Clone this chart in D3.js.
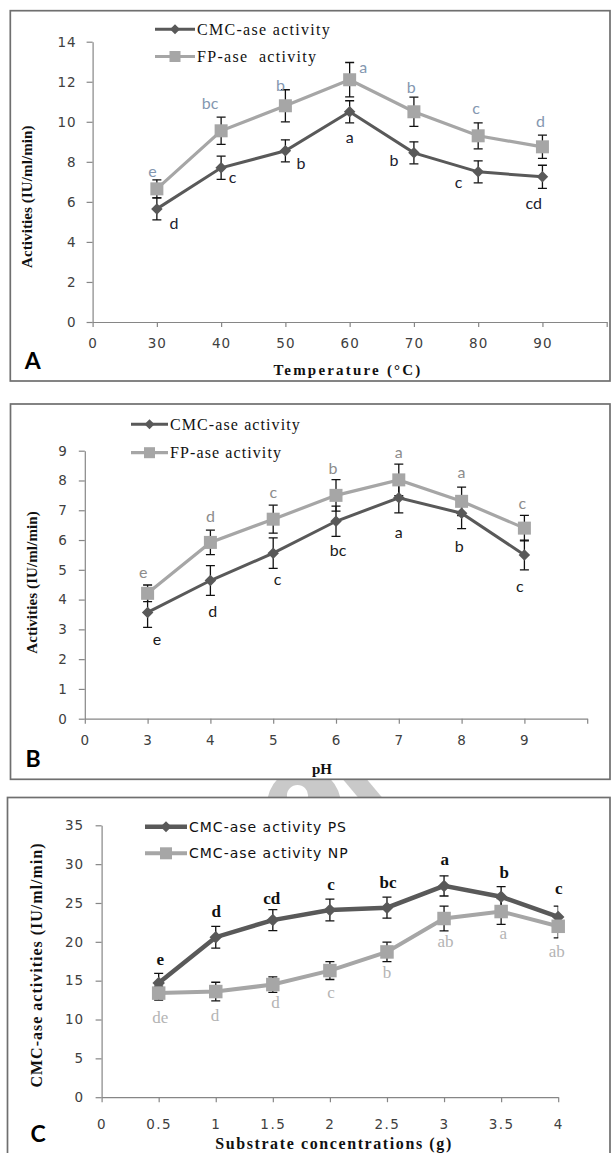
<!DOCTYPE html>
<html>
<head>
<meta charset="utf-8">
<script src="https://d3js.org/d3.v7.min.js"></script>
<style>
  body { margin: 0; background: #fff; }
  svg { display: block; }
  .tick text { font-family: "DejaVu Sans", sans-serif; font-size: 13.5px; fill: #404040; letter-spacing: 1px; }
  .domain, .tick line { stroke: #868686; stroke-width: 1.2; }
</style>
</head>
<body>
<svg width="613" height="1153"></svg>
<script>
// ---- panel A : temperature ----
var tempCats = ["0", "30", "40", "50", "60", "70", "80", "90", ""];
var tempPts = ["30", "40", "50", "60", "70", "80", "90"];
var tempCMC = [5.65, 7.7, 8.55, 10.5, 8.45, 7.5, 7.25];
var tempCMCerr = [0.55, 0.58, 0.55, 0.55, 0.55, 0.55, 0.58];
var tempCMCsig = ["d", "c", "b", "a", "b", "c", "cd"];
var tempFP = [6.65, 9.55, 10.8, 12.1, 10.5, 9.3, 8.75];
var tempFPerr = [0.45, 0.68, 0.8, 0.86, 0.73, 0.65, 0.58];
var tempFPsig = ["e", "bc", "b", "a", "b", "c", "d"];

// ---- panel B : pH ----
var phCats = ["0", "3", "4", "5", "6", "7", "8", "9", ""];
var phPts = ["3", "4", "5", "6", "7", "8", "9"];
var phCMC = [3.57, 4.64, 5.56, 6.63, 7.42, 6.9, 5.5];
var phCMCerr = [0.5, 0.5, 0.51, 0.51, 0.51, 0.52, 0.5];
var phCMCsig = ["e", "d", "c", "bc", "a", "b", "c"];
var phFP = [4.21, 5.92, 6.7, 7.5, 8.02, 7.3, 6.4];
var phFPerr = [0.28, 0.41, 0.47, 0.53, 0.53, 0.48, 0.43];
var phFPsig = ["e", "d", "c", "b", "a", "a", "c"];

// ---- panel C : substrate ----
var concCats = ["0", "0.5", "1", "1.5", "2", "2.5", "3", "3.5", "4"];
var concPts = ["0.5", "1", "1.5", "2", "2.5", "3", "3.5", "4"];
var concPS = [14.7, 20.6, 22.8, 24.1, 24.4, 27.2, 25.8, 23.2];
var concPSerr = [1.25, 1.4, 1.35, 1.4, 1.35, 1.3, 1.3, 1.4];
var concPSsig = ["e", "d", "cd", "c", "bc", "a", "b", "c"];
var concNP = [13.4, 13.6, 14.5, 16.3, 18.7, 23.0, 23.9, 22.0];
var concNPerr = [0.9, 1.2, 1.0, 1.15, 1.25, 1.6, 1.65, 1.5];
var concNPsig = ["de", "d", "d", "c", "b", "ab", "a", "ab"];

var dark = "#595959", light = "#a6a6a6";
var serif = "'Liberation Serif', 'Times New Roman', serif";
var svg = d3.select("svg");

// faint watermark bits showing between the boxes
var wm = d3.path();
wm.arc(304, 805, 37, 0, Math.PI * 2);
wm.moveTo(297.5 + 10.6, 795.6);
wm.arc(297.5, 795.6, 10.6, 0, Math.PI * 2);
svg.append("path").attr("d", wm.toString()).attr("fill", "#c9c9c9").attr("fill-rule", "evenodd");
svg.append("polygon").attr("points", "335,770 359,770 391,808 367,808").attr("fill", "#c9c9c9");

function diamond(r) { return "M0," + (-r) + "L" + r + ",0L0," + r + "L" + (-r) + ",0Z"; }

function drawMarker(g, shape, cx, cy, size, color) {
  if (shape == "diamond") {
    g.append("path").attr("d", diamond(size / 2)).attr("transform", "translate(" + cx + "," + cy + ")").attr("fill", color);
  } else {
    g.append("rect").attr("x", cx - size / 2).attr("y", cy - size / 2).attr("width", size).attr("height", size).attr("fill", color);
  }
}

function drawPanel(p) {
  var g = svg.append("g");
  g.append("rect")
    .attr("x", p.box[0]).attr("y", p.box[1])
    .attr("width", p.box[2] - p.box[0]).attr("height", p.box[3] - p.box[1])
    .attr("fill", "#fff").attr("stroke", "#6f6f6f").attr("stroke-width", 1.7);

  var x = d3.scalePoint().domain(p.cats).range([p.left, p.right]);
  var y = d3.scaleLinear().domain([0, p.ymax]).range([p.bottom, p.top]);

  g.append("g").attr("transform", "translate(" + p.left + ",0)")
    .call(d3.axisLeft(y).tickValues(d3.range(0, p.ymax + 0.001, p.ystep)).tickFormat(d3.format("d"))
      .tickSize(6).tickSizeOuter(0).tickPadding(p.ypad));
  var xa = g.append("g").attr("transform", "translate(0," + p.bottom + ")")
    .call(d3.axisBottom(x).tickSize(5).tickSizeOuter(0).tickPadding(p.xpad));
  if (p.xspacing) xa.selectAll(".tick text").style("letter-spacing", p.xspacing);

  var clipId = "clip" + p.name;
  g.append("clipPath").attr("id", clipId).append("rect")
    .attr("x", p.left).attr("y", p.top - 40).attr("width", p.right - p.left).attr("height", p.bottom - p.top + 40);

  // error bars first, then lines, then markers
  var bars = g.append("g").attr("clip-path", "url(#" + clipId + ")");
  p.series.forEach(function(s) {
    s.vals.forEach(function(v, i) {
      var cx = x(p.pts[i]), y1 = y(v + s.err[i]), y2 = y(v - s.err[i]);
      bars.append("line").attr("x1", cx).attr("x2", cx).attr("y1", y1).attr("y2", y2);
      bars.append("line").attr("x1", cx - 4.5).attr("x2", cx + 4.5).attr("y1", y1).attr("y2", y1);
      bars.append("line").attr("x1", cx - 4.5).attr("x2", cx + 4.5).attr("y1", y2).attr("y2", y2);
    });
  });
  bars.selectAll("line").attr("stroke", "#111").attr("stroke-width", 1.3);

  p.series.forEach(function(s) {
    var line = d3.line().x(function(d, i) { return x(p.pts[i]); }).y(function(d) { return y(d); });
    g.append("path").datum(s.vals).attr("d", line)
      .attr("fill", "none").attr("stroke", s.color).attr("stroke-width", s.width);
  });
  p.series.forEach(function(s) {
    s.vals.forEach(function(v, i) { drawMarker(g, s.shape, x(p.pts[i]), y(v), s.size, s.color); });
  });

  // significance letters
  p.series.forEach(function(s) {
    s.sig.forEach(function(t, i) {
      g.append("text")
        .attr("x", x(p.pts[i]) + s.off[i][0]).attr("y", y(s.vals[i]) + s.off[i][1])
        .attr("text-anchor", "middle").attr("dominant-baseline", "central")
        .style("font-family", s.sigFont).style("font-size", s.sigSize + "px")
        .style("font-weight", s.sigWeight || "normal").attr("fill", s.sigColor).text(t);
    });
  });

  // legend
  p.series.forEach(function(s, i) {
    var ly = p.legend.y[i];
    g.append("line").attr("x1", p.legend.x0).attr("x2", p.legend.x1).attr("y1", ly).attr("y2", ly)
      .attr("stroke", s.color).attr("stroke-width", s.width);
    drawMarker(g, s.shape, (p.legend.x0 + p.legend.x1) / 2, ly, s.legendSize, s.color);
    g.append("text").attr("x", p.legend.x1 + 2).attr("y", ly).attr("dominant-baseline", "central")
      .style("font-family", p.legend.font).style("font-size", p.legend.size + "px")
      .style("letter-spacing", p.legend.spacing + "px").style("white-space", "pre")
      .attr("fill", "#111").text(s.label);
  });

  // axis titles and panel letter
  g.append("text").attr("x", p.xTitle[0]).attr("y", p.xTitle[1])
    .attr("text-anchor", "middle").attr("dominant-baseline", "central")
    .style("font-family", serif).style("font-weight", "bold").style("font-size", p.titleSize + "px")
    .style("letter-spacing", p.xTitleSpacing + "px").attr("fill", "#111").text(p.xLabel);
  g.append("text").attr("transform", "translate(" + p.yTitle[0] + "," + p.yTitle[1] + ") rotate(-90)")
    .attr("text-anchor", "middle").attr("dominant-baseline", "central")
    .style("font-family", serif).style("font-weight", "bold").style("font-size", p.titleSize + "px")
    .style("letter-spacing", p.yTitleSpacing + "px").attr("fill", "#111").text(p.yLabel);
  g.append("text").attr("x", p.tag[0]).attr("y", p.tag[1])
    .attr("text-anchor", "middle").attr("dominant-baseline", "central")
    .style("font-family", "Lato, 'Liberation Sans', sans-serif").style("font-weight", "bold").style("font-size", "23px")
    .attr("fill", "#000").text(p.name);
}

var abSig = "Lato, 'Liberation Sans', sans-serif";

drawPanel({
  name: "A", box: [10.3, 10.7, 610, 381],
  left: 92.6, right: 606.7, top: 41.7, bottom: 322, ymax: 14, ystep: 2, ypad: 10, xpad: 11,
  cats: tempCats, pts: tempPts,
  series: [
    { label: "CMC-ase activity", vals: tempCMC, err: tempCMCerr, sig: tempCMCsig, color: dark, width: 3, shape: "diamond", size: 11.5, legendSize: 10,
      sigColor: "#20202e", sigFont: abSig, sigSize: 16,
      off: [[17, 13.5], [11.4, 9], [15.5, 11.6], [0, 25], [-20, 6.6], [-19.7, 10], [-8.6, 26]] },
    { label: "FP-ase  activity", vals: tempFP, err: tempFPerr, sig: tempFPsig, color: light, width: 3.2, shape: "square", size: 13, legendSize: 11,
      sigColor: "#8497b0", sigFont: abSig, sigSize: 16,
      off: [[-4.5, -18.7], [-11, -28.6], [-5, -21.3], [13.7, -12.8], [-2.6, -25], [-2, -28.3], [-2, -26]] }
  ],
  legend: { x0: 155, x1: 195, y: [29.3, 56.5], font: serif, size: 16, spacing: 1.3 },
  xLabel: "Temperature (°C)", xTitle: [348, 370], xTitleSpacing: 2.2,
  yLabel: "Activities (IU/ml/min)", yTitle: [26.5, 196.7], yTitleSpacing: 0.1, titleSize: 15,
  tag: [32.7, 360]
});

drawPanel({
  name: "B", box: [10.5, 404, 610, 779.3],
  left: 84.8, right: 587.2, top: 450.7, bottom: 718.7, ymax: 9, ystep: 1, ypad: 11, xpad: 11.5,
  cats: phCats, pts: phPts,
  series: [
    { label: "CMC-ase activity", vals: phCMC, err: phCMCerr, sig: phCMCsig, color: dark, width: 3, shape: "diamond", size: 11.5, legendSize: 10,
      sigColor: "#1a1a1a", sigFont: abSig, sigSize: 16,
      off: [[9.4, 26], [2.4, 29.8], [4.3, 25], [2, 28.3], [0, 33.3], [-2.4, 32.5], [-4.6, 30.8]] },
    { label: "FP-ase activity", vals: phFP, err: phFPerr, sig: phFPsig, color: light, width: 3.2, shape: "square", size: 13, legendSize: 11,
      sigColor: "#8c8c8c", sigFont: abSig, sigSize: 16,
      off: [[-4.3, -22], [0, -27], [0, -27.5], [-3, -28], [0, -28.8], [0, -30.3], [-2, -25.4]] }
  ],
  legend: { x0: 131, x1: 168, y: [424.3, 452.7], font: serif, size: 16, spacing: 1.1 },
  xLabel: "pH", xTitle: [322, 769], xTitleSpacing: 0,
  yLabel: "Activities (IU/ml/min)", yTitle: [32, 582.5], yTitleSpacing: 0.1, titleSize: 15,
  tag: [33.2, 757.7]
});

drawPanel({
  name: "C", box: [7.5, 797.5, 610, 1170],
  left: 101.6, right: 558.2, top: 825.3, bottom: 1097.2, ymax: 35, ystep: 5, ypad: 11.5, xpad: 17, xspacing: "1.5px",
  cats: concCats, pts: concPts,
  series: [
    { label: "CMC-ase activity PS", vals: concPS, err: concPSerr, sig: concPSsig, color: dark, width: 4.5, shape: "diamond", size: 12.5, legendSize: 11,
      sigColor: "#111", sigFont: serif, sigSize: 17, sigWeight: "bold",
      off: [[1.6, -23.3], [0.4, -25.7], [-1.2, -21.2], [1, -25.8], [1, -24.7], [0.7, -25.9], [3, -24.6], [0.6, -28.1]] },
    { label: "CMC-ase activity NP", vals: concNP, err: concNPerr, sig: concNPsig, color: light, width: 4, shape: "square", size: 13.5, legendSize: 12,
      sigColor: "#b4b4b4", sigFont: serif, sigSize: 17,
      off: [[1.6, 24], [-0.8, 24], [2.7, 18.4], [1, 22], [-0.1, 21], [1.5, 23], [2.2, 22.4], [-1.4, 25]] }
  ],
  legend: { x0: 145, x1: 187, y: [826.7, 853.3], font: "'DejaVu Sans', sans-serif", size: 14, spacing: 1 },
  xLabel: "Substrate concentrations (g)", xTitle: [334, 1143], xTitleSpacing: 1.6,
  yLabel: "CMC-ase activities (IU/ml/min)", yTitle: [36, 965], yTitleSpacing: 1, titleSize: 16,
  tag: [38, 1133]
});
</script>
</body>
</html>
